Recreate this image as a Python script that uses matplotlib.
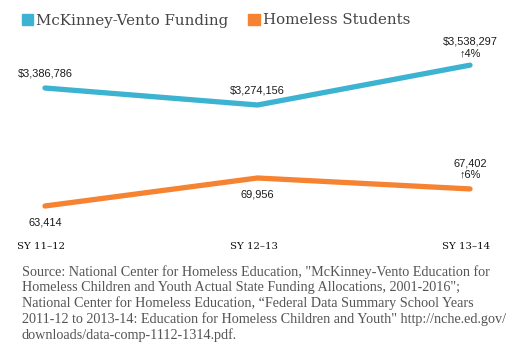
import matplotlib
matplotlib.use("Agg")
import matplotlib.pyplot as plt
import matplotlib.transforms as mtransforms
from matplotlib.patches import Patch

years = ["SY 11\u201312", "SY 12\u201313", "SY 13\u201314"]
funding = [3386786, 3274156, 3538297]
students = [63414, 69956, 67402]
funding_labels = ["$3,386,786", "$3,274,156", "$3,538,297\n\u21914%"]
student_labels = ["63,414", "69,956", "67,402\n\u21916%"]
series_names = ["McKinney-Vento Funding", "Homeless Students"]

BLUE = "#3db3d2"
ORANGE = "#f58332"
W, H = 518, 356

fig = plt.figure(figsize=(W / 100, H / 100), dpi=100)
fig.patch.set_facecolor("white")

# axes spanning pixel rows 40..230, columns 45..470
ax = fig.add_axes([45 / W, 1 - 230 / H, (470 - 45) / W, (230 - 40) / H])
ax2 = ax.twinx()
for a in (ax, ax2):
    a.set_xlim(0, 2)
    for s in a.spines.values():
        s.set_visible(False)
    a.tick_params(left=False, right=False, labelleft=False, labelright=False, bottom=False)
ax.set_ylim(2445786, 3704878)
ax2.set_ylim(57807, 102199)

x = list(range(len(years)))
ax.plot(x, funding, color=BLUE, lw=3.8, solid_capstyle="round", solid_joinstyle="miter", clip_on=False)
ax2.plot(x, students, color=ORANGE, lw=3.8, solid_capstyle="round", solid_joinstyle="miter", clip_on=False)

lab_font = dict(family=["Liberation Sans", "DejaVu Sans"], fontsize=7.9, color="#1a1a1a")
for i, (v, t) in enumerate(zip(funding, funding_labels)):
    ax.annotate(t, (i, v), xytext=(0, 5 if i == 2 else 7), textcoords="offset points",
                ha="center", va="bottom", linespacing=1.15, **lab_font)
for i, (v, t) in enumerate(zip(students, student_labels)):
    if i == 2:
        ax2.annotate(t, (i, v), xytext=(0, 6.5), textcoords="offset points",
                     ha="center", va="bottom", linespacing=1.15, **lab_font)
    else:
        ax2.annotate(t, (i, v), xytext=(0, -8), textcoords="offset points",
                     ha="center", va="top", **lab_font)

ax.set_xticks(x)
ax.set_xticklabels(years, family="DejaVu Serif", fontsize=7.3, color="#111111")
ax.tick_params(axis="x", pad=5)
shift = mtransforms.ScaledTranslation(-4 / 100, 0, fig.dpi_scale_trans)
for lbl in ax.get_xticklabels():
    lbl.set_transform(lbl.get_transform() + shift)

handles = [Patch(color=BLUE), Patch(color=ORANGE)]
fig.legend(handles, series_names, loc="upper left", bbox_to_anchor=(8 / W, 1 - 0 / H),
           ncol=2, frameon=False, handlelength=0.75, handleheight=0.75, handletextpad=0.25,
           columnspacing=1.3, prop=dict(family="DejaVu Serif", size=10.8), labelcolor="#444444")

source = ("Source: National Center for Homeless Education, \"McKinney-Vento Education for\n"
          "Homeless Children and Youth Actual State Funding Allocations, 2001-2016\";\n"
          "National Center for Homeless Education, \u201cFederal Data Summary School Years\n"
          "2011-12 to 2013-14: Education for Homeless Children and Youth\" http://nche.ed.gov/\n"
          "downloads/data-comp-1112-1314.pdf.")
fig.text(22 / W, 1 - 265 / H, source, ha="left", va="top", family="Liberation Serif",
         fontsize=10.2, color="#555555", linespacing=1.22)

fig.savefig("out.png", dpi=100)
